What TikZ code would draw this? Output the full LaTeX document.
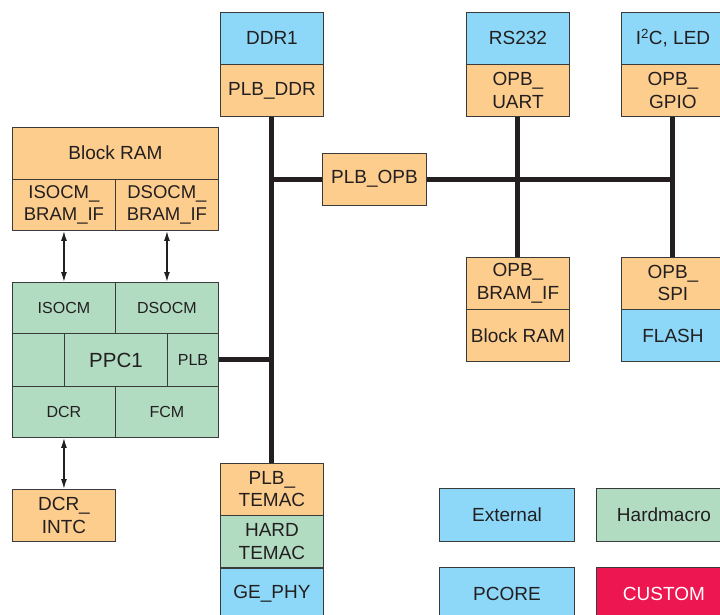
\documentclass[tikz,border=0pt]{standalone}
\usepackage{fontspec}
\setmainfont{Liberation Sans}
\usetikzlibrary{arrows.meta, positioning}
\definecolor{XOrange}{HTML}{FDCD8D}
\definecolor{XBlue}{HTML}{8DD8F8}
\definecolor{XGreen}{HTML}{B1DCC2}
\definecolor{XRed}{HTML}{ED1651}
\definecolor{XLine}{HTML}{3A3A3A}
\definecolor{XText}{HTML}{231F20}

\begin{document}
\begin{tikzpicture}[x=1pt, y=-1pt,
    box/.style={draw=XLine, line width=0.9pt, text=XText, inner sep=0pt, align=center,
        anchor=north west, minimum width=103pt, minimum height=51.5pt,
        font=\fontsize{19}{22.5}\selectfont},
    core/.style={box, fill=XOrange},
    ext/.style={box, fill=XBlue},
    hard/.style={box, fill=XGreen},
    custom/.style={box, fill=XRed, text=white},
    small/.style={font=\fontsize{16}{19}\selectfont},
    bus/.style={line width=5pt, XText},
    link/.style={{Latex[length=10pt,width=6pt]}-{Latex[length=10pt,width=6pt]}, line width=1.4pt, XText}]

    \useasboundingbox (0,0) rectangle (720,614);
    \clip (0,0) rectangle (720,614);

    % === PLB side ===
    \node[ext] (ddr) at (220,12) {DDR1};
    \node[core, below=0pt of ddr] (plbddr) {PLB\_DDR};
    \node[core, minimum width=104pt] (plbopb) at (322,153) {PLB\_OPB};
    \node[core] (plbtemac) at (220,463) {PLB\_\\TEMAC};
    \node[hard, below=0pt of plbtemac] (hardtemac) {HARD\\TEMAC};
    \node[ext, below=0pt of hardtemac] (gephy) {GE\_PHY};

    % === OPB side ===
    \node[ext] (rs232) at (466,12) {RS232};
    \node[core, below=0pt of rs232] (opbuart) {OPB\_\\UART};
    \node[ext] (i2c) at (621,12) {I\textsuperscript{2}C, LED};
    \node[core, below=0pt of i2c] (opbgpio) {OPB\_\\GPIO};
    \node[core] (opbbram) at (466,257) {OPB\_\\BRAM\_IF};
    \node[core, below=0pt of opbbram] (bram2) {Block RAM};
    \node[core] (opbspi) at (621,257) {OPB\_\\SPI};
    \node[ext, below=0pt of opbspi] (flash) {FLASH};

    % === Block RAM on OCM ===
    \node[core, minimum width=206pt] (bram1) at (12,127) {Block RAM};
    \node[core, font=\fontsize{18.5}{22.5}\selectfont] (isobram) at (12,178.5) {ISOCM\_\\BRAM\_IF};
    \node[core, font=\fontsize{18.5}{22.5}\selectfont] (dsobram) at (115,178.5) {DSOCM\_\\BRAM\_IF};

    % === PPC1 (hard processor) ===
    \node[hard, small, minimum height=51pt] (isocm) at (12,282) {ISOCM};
    \node[hard, small, minimum height=51pt] (dsocm) at (115,282) {DSOCM};
    \node[hard, minimum width=52pt, minimum height=53pt] (ppcl) at (12,333) {};
    \node[hard, minimum height=53pt, font=\fontsize{20.5}{24}\selectfont] (ppc) at (64,333) {PPC1};
    \node[hard, small, minimum width=51pt, minimum height=53pt] (plb) at (167,333) {PLB};
    \node[hard, small, minimum height=51pt] (dcr) at (12,386) {DCR};
    \node[hard, small, minimum height=51pt] (fcm) at (115,386) {FCM};
    \node[core] (dcrintc) at (12,489) {DCR\_\\INTC};

    % === legend ===
    \node[ext, minimum width=135pt, minimum height=53pt] (lext) at (439,488) {External};
    \node[hard, minimum width=135pt, minimum height=53pt] (lhard) at (596,488) {Hardmacro};
    \node[ext, minimum width=135pt, minimum height=53pt] (lpcore) at (439,567) {PCORE};
    \node[custom, minimum width=135pt, minimum height=53pt] (lcustom) at (596,567) {CUSTOM};

    % === buses ===
    \draw[bus] (plbddr.south) -- (plbtemac.north);
    \coordinate (jopb) at (plbddr.south |- plbopb.west);
    \coordinate (jgpio) at (opbgpio.south |- plbopb.east);
    \draw[bus] (jopb) -- (plbopb.west);
    \draw[bus] (plbopb.east) -- (jgpio);
    \draw[bus] (opbuart.south) -- (opbbram.north);
    \draw[bus] (opbgpio.south) -- (opbspi.north);
    \draw[bus] (plb.east) -- (plb.east -| plbddr.south);

    % === OCM / DCR links ===
    \draw[link] (isobram.south) -- (isocm.north);
    \draw[link] (dsobram.south) -- (dsocm.north);
    \draw[link] (dcr.south) -- (dcrintc.north);

\end{tikzpicture}
\end{document}
